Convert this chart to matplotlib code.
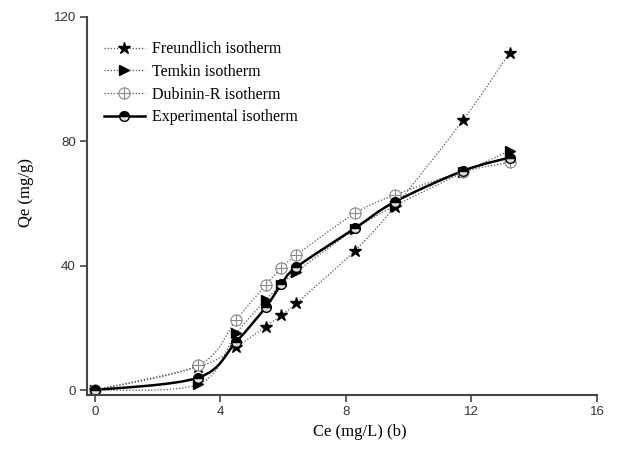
import numpy as np
import matplotlib
matplotlib.use("Agg")
import matplotlib.pyplot as plt
from matplotlib.path import Path
from matplotlib.patches import PathPatch
from matplotlib.lines import Line2D

ce = [0.0, 3.3, 4.5, 5.44, 5.94, 6.42, 8.28, 9.55, 11.73, 13.22]
q_exp = [0.0, 4.0, 15.5, 26.6, 34.0, 39.5, 52.0, 60.5, 70.5, 74.8]
q_freund = [0.0, 7.5, 13.9, 20.4, 24.1, 27.9, 44.8, 58.9, 86.8, 108.5]
q_temkin = [0.0, 1.9, 18.2, 28.9, 33.8, 38.0, 51.7, 59.2, 70.0, 77.0]
q_dub = [0.0, 8.0, 22.5, 33.8, 39.1, 43.4, 56.8, 62.7, 70.2, 73.2]

xticks = [0, 4, 8, 12, 16]
yticks = [0, 40, 80, 120]
labels = ["Freundlich isotherm", "Temkin isotherm", "Dubinin-R isotherm", "Experimental isotherm"]

serif = ["Liberation Serif", "DejaVu Serif"]
sans = ["Liberation Sans", "DejaVu Sans"]


def smooth_path(x, y):
    x = np.asarray(x, float); y = np.asarray(y, float)
    n = len(x)
    verts = [(x[0], y[0])]
    codes = [Path.MOVETO]
    for i in range(n - 1):
        x0, y0 = (x[i - 1], y[i - 1]) if i > 0 else (x[i], y[i])
        x3, y3 = (x[i + 2], y[i + 2]) if i + 2 < n else (x[i + 1], y[i + 1])
        t = 1 / 6.0
        c1 = (x[i] + (x[i + 1] - x0) * t, y[i] + (y[i + 1] - y0) * t)
        c2 = (x[i + 1] - (x3 - x[i]) * t, y[i + 1] - (y3 - y[i]) * t)
        verts += [c1, c2, (x[i + 1], y[i + 1])]
        codes += [Path.CURVE4] * 3
    return Path(verts, codes)


fig = plt.figure(figsize=(6.18, 4.59), dpi=100)
ax = fig.add_axes([0.1408, 0.1394, 0.8252, 0.8236])

dls = (0, (1, 1.5))
for yy in (q_freund, q_temkin, q_dub):
    ax.add_patch(PathPatch(smooth_path(ce, yy), fill=False, ec="#555555", lw=0.9, ls=dls))
ax.add_patch(PathPatch(smooth_path(ce, q_exp), fill=False, ec="black", lw=1.8))

ax.plot(ce, q_freund, ls="none", marker="*", ms=9, color="black")
ax.plot(ce, q_temkin, ls="none", marker=">", ms=7, color="black")
ax.plot(ce, q_dub, ls="none", marker="o", ms=8, mfc="white", mec="#888888", mew=0.8)
ax.plot(ce, q_dub, ls="none", marker="+", ms=8, color="#888888", mew=0.8)
ax.plot(ce, q_exp, ls="none", marker="o", ms=7, color="black", fillstyle="top",
        markerfacecoloralt="#dddddd", mec="black", mew=1.0)

h1 = Line2D([], [], marker="*", ms=9, color="black", mec="black", ls=dls, lw=0.9)
h1.set_color("#555555"); h1.set_markerfacecolor("black"); h1.set_markeredgecolor("black")
h2 = Line2D([], [], marker=">", ms=7, color="#555555", mfc="black", mec="black", ls=dls, lw=0.9)
h3 = (Line2D([], [], marker="o", ms=8, mfc="white", mec="#888888", mew=0.8, color="#555555", ls=dls, lw=0.9),
      Line2D([], [], marker="+", ms=8, color="#888888", mew=0.8, ls="none"))
h4 = Line2D([], [], marker="o", ms=7, color="black", lw=1.8, fillstyle="top", markerfacecoloralt="#dddddd")
leg = ax.legend([h1, h2, h3, h4], labels, loc="upper left", bbox_to_anchor=(0.02, 0.953),
                frameon=False, prop={"family": serif, "size": 11.5}, handlelength=2.6,
                handletextpad=0.4, labelspacing=0.42, borderaxespad=0)

ax.set_xlim(-0.25, 16)
ax.set_ylim(-1.6, 120)
ax.set_xticks(xticks)
ax.set_yticks(yticks)
for s in ("top", "right"):
    ax.spines[s].set_visible(False)
for s in ("left", "bottom"):
    ax.spines[s].set_color("#444444")
    ax.spines[s].set_linewidth(1.5)
ax.tick_params(direction="out", length=5, width=1.2, color="#444444", labelsize=9.5,
               labelcolor="#333333", pad=3)
for lab in ax.get_xticklabels() + ax.get_yticklabels():
    lab.set_family(sans)

fig.text(0.583, 0.058, "Ce (mg/L) (b)", family=serif, size=12, ha="center", va="center")
fig.text(0.042, 0.58, "Qe (mg/g)", family=serif, size=12, ha="center", va="center", rotation=90)

fig.savefig("out.png", dpi=100)
